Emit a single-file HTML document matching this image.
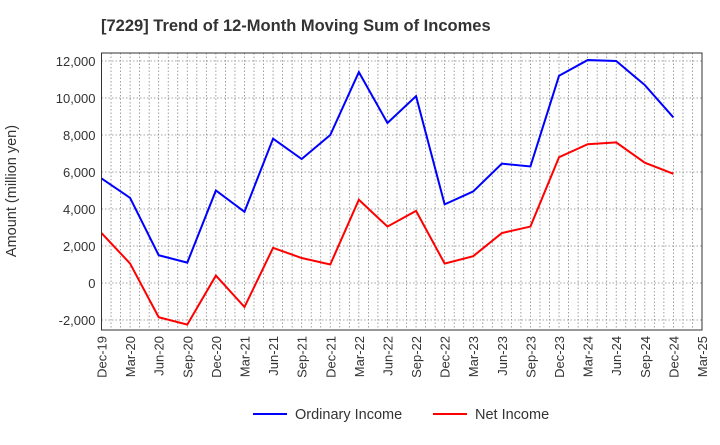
<!DOCTYPE html>
<html><head><meta charset="utf-8"><style>
body{margin:0;background:#fff;font-family:"Liberation Sans",sans-serif;}
</style></head><body>
<svg id="c" width="720" height="440" xmlns="http://www.w3.org/2000/svg" font-family="Liberation Sans, sans-serif">
<text x="101" y="31" font-size="16.5" font-weight="bold" fill="#333">[7229]  Trend of 12-Month Moving Sum of Incomes</text>
<g id="grid"></g><g id="series"></g><g id="axes"></g>
<text transform="translate(16,191) rotate(-90)" text-anchor="middle" font-size="14.5" fill="#333">Amount (million yen)</text>
<g>
<line x1="253" y1="414" x2="287" y2="414" stroke="#0000ff" stroke-width="2"/>
<text x="295" y="419" font-size="14.5" fill="#333">Ordinary Income</text>
<line x1="433" y1="414" x2="467" y2="414" stroke="#ff0000" stroke-width="2"/>
<text x="475" y="419" font-size="14.5" fill="#333">Net Income</text>
</g>
</svg>
<script>
const categories=["Dec-19","Mar-20","Jun-20","Sep-20","Dec-20","Mar-21","Jun-21","Sep-21","Dec-21","Mar-22","Jun-22","Sep-22","Dec-22","Mar-23","Jun-23","Sep-23","Dec-23","Mar-24","Jun-24","Sep-24","Dec-24","Mar-25"];
const ordinaryIncome=[5650,4600,1500,1100,5000,3850,7800,6700,8000,11400,8650,10100,4250,4950,6450,6300,11200,12050,12000,10700,8950];
const netIncome=[2700,1050,-1850,-2250,400,-1300,1900,1350,1000,4500,3050,3900,1050,1450,2700,3050,6800,7500,7600,6500,5900];
const yTicks=[-2000,0,2000,4000,6000,8000,10000,12000];
const L=101.5,R=702,T=53,B=330,yMin=-2541,yMax=12432;
const NS="http://www.w3.org/2000/svg";
const step=(R-L)/(categories.length-1);
const x=i=>L+i*step;
const y=v=>B-(v-yMin)/(yMax-yMin)*(B-T);
function mk(tag,attrs,parent){const e=document.createElementNS(NS,tag);for(const k in attrs)e.setAttribute(k,attrs[k]);document.getElementById(parent).appendChild(e);return e;}
for(let m=1;m<(categories.length-1)*3;m++){const xx=L+m*step/3;
const g=mk('line',{x1:xx,x2:xx,y1:T,y2:B,stroke:'#888','stroke-width':0.8,'stroke-dasharray':'1.5,2'},'grid');

}
yTicks.forEach(v=>{const g=mk('line',{x1:L,x2:R,y1:y(v),y2:y(v),stroke:'#888','stroke-width':0.8,'stroke-dasharray':'1.5,2'},'grid');


const t=mk('text',{x:L-6,y:y(v)+5,'text-anchor':'end','font-size':13,fill:'#333'},'axes');t.textContent=v.toLocaleString('en-US');

});
categories.forEach((c,i)=>{const t=mk('text',{transform:`translate(${x(i)+5},${B+6}) rotate(-90)`,'text-anchor':'end','font-size':13,fill:'#333'},'axes');t.textContent=c;

});
const fr=mk('rect',{x:L,y:T,width:R-L,height:B-T,fill:'none',stroke:'#333','stroke-width':1},'axes');


const p1=mk('polyline',{points:ordinaryIncome.map((v,i)=>x(i)+','+y(v)).join(' '),fill:'none',stroke:'#0000ff','stroke-width':2},'series');


const p2=mk('polyline',{points:netIncome.map((v,i)=>x(i)+','+y(v)).join(' '),fill:'none',stroke:'#ff0000','stroke-width':2},'series');


</script>
</body></html>
